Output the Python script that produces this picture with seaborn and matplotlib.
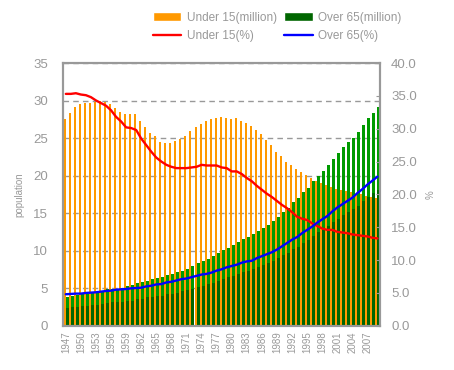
import numpy as np
import pandas as pd
import matplotlib
matplotlib.use("Agg")
import matplotlib.pyplot as plt
import seaborn as sns
from matplotlib.patches import Patch
from matplotlib.lines import Line2D

years = list(range(1947, 2010))
under15_million = [27.6, 28.3, 29.2, 29.6, 29.7, 29.7, 29.8, 29.9, 29.8, 29.6,
                   29.0, 28.5, 28.2, 28.2, 28.2, 27.3, 26.5, 25.7, 25.3, 24.5,
                   24.4, 24.4, 24.6, 24.9, 25.3, 26.0, 26.5, 26.9, 27.3, 27.6,
                   27.7, 27.8, 27.7, 27.6, 27.7, 27.3, 27.0, 26.6, 26.1, 25.6,
                   24.8, 24.1, 23.2, 22.6, 21.8, 21.4, 20.9, 20.5, 20.1, 19.7,
                   19.3, 19.0, 18.8, 18.5, 18.2, 18.1, 18.0, 17.8, 17.6, 17.6,
                   17.3, 17.2, 17.0]
over65_million = [3.84, 4.0, 4.1, 4.3, 4.3, 4.45, 4.5, 4.6, 4.9, 4.95,
                  4.95, 5.1, 5.3, 5.4, 5.65, 5.85, 6.0, 6.2, 6.3, 6.45,
                  6.7, 6.9, 7.1, 7.35, 7.6, 7.9, 8.3, 8.6, 8.9, 9.3,
                  9.7, 10.1, 10.4, 10.7, 11.1, 11.5, 11.8, 12.2, 12.6, 13.0,
                  13.4, 13.9, 14.5, 15.2, 15.7, 16.5, 17.0, 17.8, 18.4, 19.3,
                  20.0, 20.6, 21.4, 22.2, 23.0, 23.8, 24.5, 25.0, 25.8, 26.8,
                  27.7, 28.4, 29.2]
under15_pct = [35.3, 35.3, 35.4, 35.2, 35.1, 34.8, 34.3, 33.9, 33.5, 32.8,
               31.8, 31.1, 30.2, 30.1, 29.8, 28.5, 27.5, 26.5, 25.6, 25.0,
               24.5, 24.2, 24.0, 24.0, 24.0, 24.1, 24.2, 24.5, 24.4, 24.4,
               24.4, 24.1, 24.0, 23.5, 23.5, 23.1, 22.5, 22.0, 21.3, 20.7,
               20.1, 19.6, 19.0, 18.4, 17.9, 17.3, 16.6, 16.3, 16.1, 15.6,
               15.2, 14.8, 14.6, 14.6, 14.3, 14.2, 14.1, 13.9, 13.8, 13.7,
               13.6, 13.4, 13.3]
over65_pct = [4.8, 4.85, 4.9, 4.9, 5.0, 5.05, 5.1, 5.2, 5.3, 5.35,
              5.5, 5.55, 5.6, 5.7, 5.75, 5.8, 6.0, 6.1, 6.3, 6.35,
              6.6, 6.7, 6.9, 7.1, 7.2, 7.4, 7.6, 7.8, 7.9, 8.1,
              8.4, 8.6, 8.9, 9.1, 9.3, 9.6, 9.8, 9.9, 10.3, 10.6,
              10.9, 11.2, 11.6, 12.1, 12.6, 13.1, 13.5, 14.1, 14.6, 15.1,
              15.7, 16.2, 16.7, 17.4, 18.0, 18.5, 19.0, 19.5, 20.2, 20.8,
              21.5, 22.1, 22.7]
series_names = ["Under 15(million)", "Over 65(million)", "Under 15(%)", "Over 65(%)"]

ORANGE = "#FF9900"
GREEN_DARK = "#006600"
GREEN_LIGHT = "#009A00"
GRAY = "#999999"

sns.set_style("white")
plt.rcParams["font.family"] = ["Liberation Sans", "DejaVu Sans"]

n = len(years)
df = pd.DataFrame({
    "year": [str(y) for y in years] * 2,
    "value": under15_million + over65_million,
    "series": [series_names[0]] * n + [series_names[1]] * n,
})

fig = plt.figure(figsize=(4.54, 3.70), dpi=100)
ax = fig.add_axes([63.3 / 454, 1 - 325.8 / 370, (380 - 63.3) / 454, (325.8 - 63) / 370])

sns.barplot(data=df, x="year", y="value", hue="series",
            hue_order=series_names[:2],
            palette={series_names[0]: ORANGE, series_names[1]: GREEN_LIGHT},
            dodge=True, width=0.8, saturation=1, legend=False, ax=ax,
            linewidth=0)

ax.set_ylim(0, 35)
ax.set_xlim(-0.5, n - 0.5)

for cont in ax.containers:
    for p in cont:
        p.set_zorder(2)

# two-tone gradient fill on the green bars
grad = np.zeros((100, 1, 3))
dark = np.array(matplotlib.colors.to_rgb(GREEN_DARK))
light = np.array(matplotlib.colors.to_rgb(GREEN_LIGHT))
for i in range(100):
    grad[i, 0] = dark if i < 62 else light
for p in ax.containers[1]:
    x0, w, h = p.get_x(), p.get_width(), p.get_height()
    im = ax.imshow(grad, extent=[x0, x0 + w, 0, h], origin="lower",
                   aspect="auto", interpolation="nearest", zorder=2.1)
    im.set_clip_path(p)
ax.set_ylim(0, 35)
ax.set_xlim(-0.5, n - 0.5)
ax.set_aspect("auto")

ax.set_yticks(range(0, 36, 5))
ax.yaxis.grid(True, linestyle=(0, (4, 3)), color=GRAY, linewidth=1, zorder=0)
ax.set_axisbelow(True)
ax.set_xticks(range(0, n, 3))
ax.set_xticklabels([str(y) for y in years[::3]], rotation=90)
ax.tick_params(axis="x", length=0, pad=4, labelsize=7, labelcolor=GRAY)
ax.tick_params(axis="y", length=0, pad=11, labelsize=9.5, labelcolor=GRAY)
ax.set_xlabel("")
ax.set_ylabel("population", fontsize=7, color=GRAY, labelpad=6)
for s in ax.spines.values():
    s.set_color(GRAY)
    s.set_linewidth(1.5)

ax2 = ax.twinx()
xs = np.arange(n)
sns.lineplot(x=xs, y=under15_pct, color="#FF0000", linewidth=1.7, ax=ax2)
sns.lineplot(x=xs, y=over65_pct, color="#0000FF", linewidth=1.7, ax=ax2)
ax2.set_ylim(0, 40)
ax2.set_xlim(-0.5, n - 0.5)
ax2.set_yticks(range(0, 41, 5))
ax2.set_yticklabels([f"{v:.1f}" for v in range(0, 41, 5)])
ax2.tick_params(axis="y", direction="in", length=3, color=GRAY, pad=8,
                labelsize=9.5, labelcolor=GRAY)
ax2.set_ylabel("%", fontsize=7, color=GRAY, labelpad=6)
for s in ax2.spines.values():
    s.set_color(GRAY)
    s.set_linewidth(1.5)

handles = [Patch(facecolor=ORANGE), Line2D([], [], color="#FF0000", lw=1.7),
           Patch(facecolor=GREEN_DARK), Line2D([], [], color="#0000FF", lw=1.7)]
labels = [series_names[0], series_names[2], series_names[1], series_names[3]]
fig.legend(handles, labels, ncol=2, loc="upper left",
           bbox_to_anchor=(148 / 454, 1 - 7 / 370), frameon=False,
           fontsize=8.5, handlelength=2.4, handletextpad=0.5,
           columnspacing=0.6, labelspacing=0.55, labelcolor=GRAY,
           borderaxespad=0)

fig.savefig("out.png", dpi=100)
